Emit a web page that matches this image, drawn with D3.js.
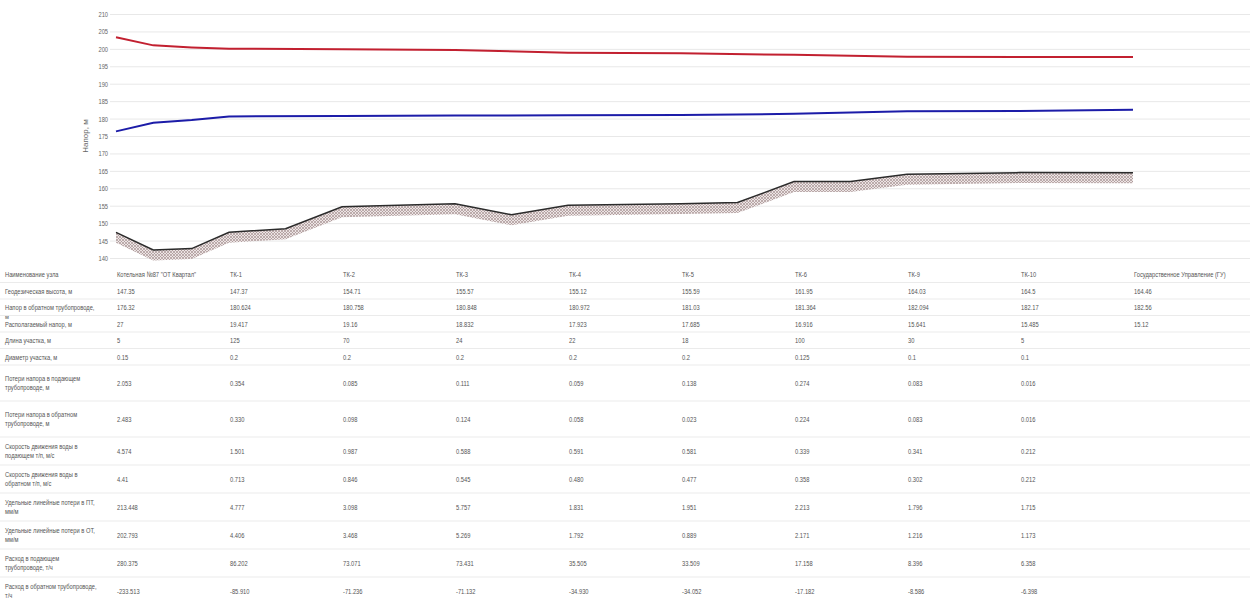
<!DOCTYPE html>
<html>
<head>
<meta charset="utf-8">
<script src="https://cdn.jsdelivr.net/npm/d3@7"></script>
<style>
  html, body { margin: 0; padding: 0; background: #fff; }
  svg { display: block; font-family: "Liberation Sans", Arial, sans-serif; }
  .sq { transform-box: fill-box; transform: scaleX(0.72); }
  .sq-start { transform-origin: left center; }
  .sq-end { transform-origin: right center; }
  .cell { font-size: 8px; fill: #555; }
</style>
</head>
<body>
<div id="chart"></div>
<script>
// --- chart profile (positions in node-index units) ---
const groundPos = [0, 0.33, 0.67, 1, 1.5, 2, 3, 3.5, 4, 5, 5.5, 6, 6.5, 7, 8, 9];
const groundLine = [147.35, 142.3, 142.7, 147.37, 148.4, 154.71, 155.57, 152.4, 155.12, 155.59, 155.9, 161.95, 161.95, 164.03, 164.5, 164.46];

const pipePos = [0, 0.33, 0.67, 1, 2, 3, 4, 5, 6, 7, 8, 9];
const supplyLine = [203.32, 201.0, 200.4, 200.04, 199.92, 199.68, 198.9, 198.72, 198.28, 197.74, 197.66, 197.68];
const returnLine = [176.32, 178.8, 179.6, 180.62, 180.76, 180.85, 180.97, 181.03, 181.36, 182.09, 182.17, 182.56];

const yTicks = [140, 145, 150, 155, 160, 165, 170, 175, 180, 185, 190, 195, 200, 205, 210];

// --- table ---
const nodeNames = ['Котельная №87 "ОТ Квартал"', 'ТК-1', 'ТК-2', 'ТК-3', 'ТК-4', 'ТК-5', 'ТК-6', 'ТК-9', 'ТК-10', 'Государственное Управление (ГУ)'];
const groundHeight = ['147.35', '147.37', '154.71', '155.57', '155.12', '155.59', '161.95', '164.03', '164.5', '164.46'];
const returnHead = ['176.32', '180.624', '180.758', '180.848', '180.972', '181.03', '181.364', '182.094', '182.17', '182.56'];
const availableHead = ['27', '19.417', '19.16', '18.832', '17.923', '17.685', '16.916', '15.641', '15.485', '15.12'];
const segLength = ['5', '125', '70', '24', '22', '18', '100', '30', '5'];
const segDiameter = ['0.15', '0.2', '0.2', '0.2', '0.2', '0.2', '0.125', '0.1', '0.1'];
const lossSupply = ['2.053', '0.354', '0.085', '0.111', '0.059', '0.138', '0.274', '0.083', '0.016'];
const lossReturn = ['2.483', '0.330', '0.098', '0.124', '0.058', '0.023', '0.224', '0.083', '0.016'];
const speedSupply = ['4.574', '1.501', '0.987', '0.588', '0.591', '0.581', '0.339', '0.341', '0.212'];
const speedReturn = ['4.41', '0.713', '0.846', '0.545', '0.480', '0.477', '0.358', '0.302', '0.212'];
const specLossSupply = ['213.448', '4.777', '3.098', '5.757', '1.831', '1.951', '2.213', '1.796', '1.715'];
const specLossReturn = ['202.793', '4.406', '3.468', '5.269', '1.792', '0.889', '2.171', '1.216', '1.173'];
const flowSupply = ['280.375', '86.202', '73.071', '73.431', '35.505', '33.509', '17.158', '8.396', '6.358'];
const flowReturn = ['-233.513', '-85.910', '-71.236', '-71.132', '-34.930', '-34.052', '-17.182', '-8.586', '-6.398'];

const rowLabels = [
  ['Наименование узла'],
  ['Геодезическая высота, м'],
  ['Напор в обратном трубопроводе,', 'м'],
  ['Располагаемый напор, м'],
  ['Длина участка, м'],
  ['Диаметр участка, м'],
  ['Потери напора в подающем', 'трубопроводе, м'],
  ['Потери напора в обратном', 'трубопроводе, м'],
  ['Скорость движения воды в', 'подающем т/п, м/с'],
  ['Скорость движения воды в', 'обратном т/п, м/с'],
  ['Удельные линейные потери в ПТ,', 'мм/м'],
  ['Удельные линейные потери в ОТ,', 'мм/м'],
  ['Расход в подающем', 'трубопроводе, т/ч'],
  ['Расход в обратном трубопроводе,', 'т/ч']
];
const rowValues = [nodeNames, groundHeight, returnHead, availableHead, segLength, segDiameter,
  lossSupply, lossReturn, speedSupply, speedReturn, specLossSupply, specLossReturn, flowSupply, flowReturn];

// --- layout ---
const W = 1259, H = 603;
const plotLeft = 110, plotRight = 1250;
const svg = d3.select('#chart').append('svg').attr('width', W).attr('height', H);

const x = d3.scaleLinear().domain([0, 9]).range([116, 1133]);
const y = d3.scaleLinear().domain([140, 210]).range([258, 14]);

const defs = svg.append('defs');
const pat = defs.append('pattern')
  .attr('id', 'hatch')
  .attr('patternUnits', 'userSpaceOnUse')
  .attr('width', 3).attr('height', 3);
pat.append('rect').attr('width', 3).attr('height', 3).attr('fill', '#ece4e4');
pat.append('path').attr('d', 'M0,0L3,3M3,0L0,3')
  .attr('stroke', '#a89494').attr('stroke-width', 0.7);

// grid + y axis
const yAxis = svg.append('g')
  .attr('transform', `translate(${plotLeft},0)`)
  .call(d3.axisLeft(y).tickValues(yTicks).tickSize(-(plotRight - plotLeft)).tickPadding(2));
yAxis.select('.domain').remove();
yAxis.selectAll('line').attr('stroke', '#e8e8e8');
yAxis.selectAll('text')
  .attr('class', 'sq sq-end')
  .attr('fill', '#666')
  .style('font-size', '8px');

svg.append('text')
  .attr('transform', 'translate(88,136) rotate(-90)')
  .attr('text-anchor', 'middle')
  .attr('fill', '#666')
  .style('font-size', '8px')
  .text('Напор, м');

// ground hatch band
const ground = groundPos.map((p, i) => ({ p, v: groundLine[i] }));
svg.append('path')
  .datum(ground)
  .attr('fill', 'url(#hatch)')
  .attr('d', d3.area().x(d => x(d.p)).y0(d => y(d.v)).y1(d => y(d.v - 3)));

svg.append('path')
  .datum(ground)
  .attr('fill', 'none')
  .attr('stroke', '#2b2b2b')
  .attr('stroke-width', 1.5)
  .attr('d', d3.line().x(d => x(d.p)).y(d => y(d.v)));

const pipeLine = d3.line().x(d => x(d.p)).y(d => y(d.v));
svg.append('path')
  .datum(pipePos.map((p, i) => ({ p, v: supplyLine[i] })))
  .attr('fill', 'none')
  .attr('stroke', '#c22030')
  .attr('stroke-width', 2)
  .attr('d', pipeLine);

svg.append('path')
  .datum(pipePos.map((p, i) => ({ p, v: returnLine[i] })))
  .attr('fill', 'none')
  .attr('stroke', '#1c1ca8')
  .attr('stroke-width', 2)
  .attr('d', pipeLine);

// table
const rowHeights = [16.5, 16.5, 16.5, 16.5, 16.5, 16.5, 36, 36, 28, 28, 28, 28, 28, 28];
let rowTop = 266;
const table = svg.append('g');
rowLabels.forEach((lines, r) => {
  const h = rowHeights[r];
  const cy = rowTop + h / 2;
  const g = table.append('g');

  const isTwo = lines.length > 1 && h > 20;
  lines.forEach((t, k) => {
    let ty;
    if (isTwo) ty = cy + (k === 0 ? -4.5 : 4.5);
    else ty = cy + k * 8.5;
    g.append('text')
      .attr('class', 'cell sq sq-start')
      .attr('x', 5)
      .attr('y', ty)
      .attr('dy', '0.35em')
      .text(t);
  });

  rowValues[r].forEach((v, i) => {
    g.append('text')
      .attr('class', 'cell sq sq-start')
      .attr('x', x(i) + 1)
      .attr('y', cy)
      .attr('dy', '0.35em')
      .text(v);
  });

  rowTop += h;
  table.append('line')
    .attr('x1', 0).attr('x2', plotRight)
    .attr('y1', rowTop).attr('y2', rowTop)
    .attr('stroke', '#ebebeb');
});
</script>
</body>
</html>
